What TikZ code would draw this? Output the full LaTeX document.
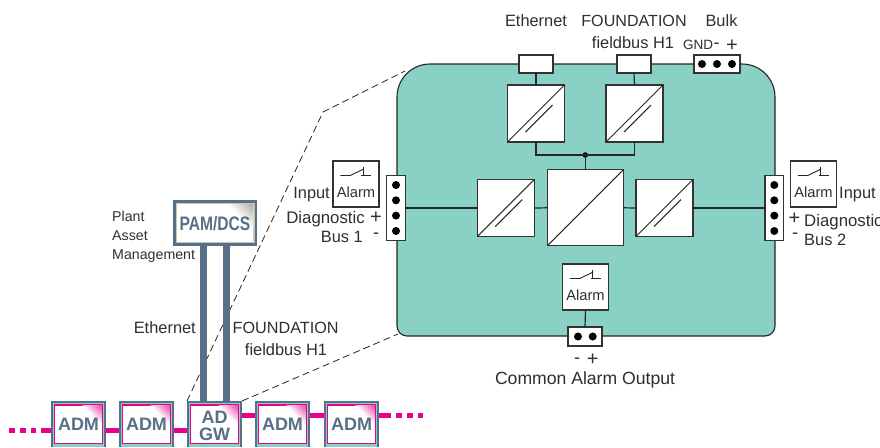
\documentclass[tikz,border=0pt]{standalone}
\usepackage{fontspec}
\setmainfont{Liberation Sans}
\usetikzlibrary{calc}
\definecolor{slate}{HTML}{567087}
\definecolor{tealc}{HTML}{89D0C5}
\definecolor{magc}{HTML}{E9008C}
\definecolor{txtc}{HTML}{2F2F2F}
\definecolor{taupe}{HTML}{C9C6B4}
\definecolor{tandark}{HTML}{A8A493}
\tikzset{
  x=1pt,y=-1pt,
  wire/.style={line width=1.2pt,draw=black!85},
  blockbox/.style={draw=black!80,fill=white,line width=1.1pt,inner sep=0pt,outer sep=0pt},
  dashline/.style={line width=0.8pt,draw=black!85,dash pattern=on 7pt off 4pt},
  maglink/.style={line width=5pt,draw=magc},
  bar/.style={line width=7pt,draw=slate},
  dotpin/.style={circle,fill=black,inner sep=0pt,minimum size=8pt},
  outerbox/.style={fill=slate,inner sep=0pt,outer sep=0pt},
  devtext/.style={inner sep=0pt,text=slate,font=\fontsize{18}{18}\selectfont\bfseries,anchor=base},
}
% text: anchor, name, x, y (vertical middle), size, text
\newcommand{\lbl}[6]{\node[anchor=#1,inner sep=0pt,text=txtc,font=\fontsize{#5}{#5}\selectfont] (#2) at (#3,#4+0.36*#5) {#6};}
% converter: name, cx, cy, size
\newcommand{\conv}[4]{%
  \node[blockbox,minimum width=#4pt,minimum height=#4pt] (#1) at (#2,#3) {};
  \draw[line width=1pt,draw=black!85] (#1.south west) -- (#1.north east);
}
% inner stroke of a small converter
\newcommand{\convin}[1]{\draw[line width=1pt,draw=black!85] ($(#1.south west)+(18pt,9.9pt)$) -- ++(27pt,27pt);}
% alarm: name, left, top
\newcommand{\alarmbox}[3]{%
  \node[blockbox,minimum width=46pt,minimum height=46pt] (#1) at (#2+23,#3+23) {};
  \draw[line width=0.9pt,draw=black!85] (#2+7.3,#3+14.5) -- (#2+17.3,#3+14.5) -- (#2+30.7,#3+8);
  \draw[line width=0.9pt,draw=black!85] (#2+30,#3+5.7) -- (#2+30,#3+14.5);
  \draw[line width=0.9pt,draw=black!85] (#2+28,#3+14.5) -- (#2+38.3,#3+14.5);
  \lbl{base}{#1-t}{#2+23}{#3+31}{14.7}{Alarm}
}
% corner fade: right x, top y, side, colour, strength
\newcommand{\cornerfade}[5]{%
  \foreach \t in {1,0.95,...,0.04}{
    \pgfmathsetmacro{\k}{(1-\t)*#5}
    \fill[#4!\k!white] (#1-#3*\t,#2) -- (#1,#2) -- (#1,#2+#3*\t) -- cycle;
  }
}
% device box: name, cx
\newcommand{\devbox}[2]{%
  \node[outerbox,minimum width=55pt,minimum height=46pt] (#1) at (#2,424) {};
  \fill[tealc] (#2-25.2,403.3) rectangle (#2+25.2,447);
  \fill[magc] (#2-24.2,404.3) rectangle (#2+24.2,443.7);
  \fill[white] (#2-23.1,405.5) rectangle (#2+23.1,442.5);
  \cornerfade{#2+23.1}{405.5}{20}{magc}{75}
}
\begin{document}
\begin{tikzpicture}
\useasboundingbox (0,0) rectangle (880,447);
\clip (0,0) rectangle (880,447);
\fill[white] (0,0) rectangle (880,447);

% named free ends of the dashed lines
\coordinate (dA) at (187,401);
\coordinate (dB) at (323,112);
\coordinate (dC) at (405,71);
\coordinate (dD) at (242,401);
\coordinate (dE) at (398,334);
\draw[dashline] (dA) -- (dB) -- (dC);
\draw[dashline] (dD) -- (dE);

% main housing
\draw[fill=tealc,line width=1.1pt,draw=black!85,rounded corners=33pt]
  (397,200) -- (397,64) -- (775,64) -- (775,200)
  [rounded corners=10pt] -- (775,336) -- (397,336) -- cycle;

% converters
\conv{cE}{536}{113.5}{57}\convin{cE}
\conv{cF}{634.5}{113.5}{57}\convin{cF}
\conv{cL}{505.8}{208}{57}\convin{cL}
\conv{cR}{664.5}{208}{57}\convin{cR}
\conv{cM}{585.3}{207.8}{76}

% top connectors
\node[blockbox,minimum width=34pt,minimum height=18pt] (pE) at (536,64) {};
\node[blockbox,minimum width=34pt,minimum height=18pt] (pF) at (634,64) {};
\node[blockbox,minimum width=46pt,minimum height=18pt] (pB) at (717,64) {};
\node[dotpin] (pB1) at (702,64) {};
\node[dotpin] (pB2) at (717,64) {};
\node[dotpin] (pB3) at (732,64) {};

\draw[wire] (pE.south) -- (cE.north);
\draw[wire] (pF.south) -- (cF.north);
\node[circle,fill=black,inner sep=0pt,minimum size=5.5pt] (junc) at (585.3,155) {};
\draw[wire] (cE.south) |- (junc.center);
\draw[wire] (cF.south) |- (junc.center);
\draw[wire] (junc.center) -- (cM.north);

% side terminals
\node[blockbox,minimum width=18.6pt,minimum height=64.5pt] (tL) at (396,208) {};
\node[dotpin] (tL1) at (396,185) {};
\node[dotpin] (tL2) at (396,200.3) {};
\node[dotpin] (tL3) at (396,215.6) {};
\node[dotpin] (tL4) at (396,231) {};
\node[blockbox,minimum width=18.6pt,minimum height=64.5pt] (tR) at (774.3,208) {};
\node[dotpin] (tR1) at (774.3,185) {};
\node[dotpin] (tR2) at (774.3,200.3) {};
\node[dotpin] (tR3) at (774.3,215.6) {};
\node[dotpin] (tR4) at (774.3,231) {};
\draw[wire] (tL.east) -- (cL.west);
\draw[wire] (cL.east) -- (cM.west);
\draw[wire] (cM.east) -- (cR.west);
\draw[wire] (cR.east) -- (tR.west);

% alarms
\alarmbox{aL}{333}{161}
\alarmbox{aR}{790.5}{161}
\alarmbox{aB}{562.5}{264}
\node[blockbox,minimum width=34pt,minimum height=19pt] (tB) at (585,336.5) {};
\node[dotpin] (tB1) at (578,336.5) {};
\node[dotpin] (tB2) at (592.7,336.5) {};
\draw[wire] (aB.south) -- (tB.north);

% top labels
\lbl{base}{lE}{536}{21}{16.4}{Ethernet}
\lbl{base}{lF1}{634}{21}{16.1}{FOUNDATION}
\lbl{base}{lF2}{633}{43}{16.4}{fieldbus H1}
\lbl{base}{lB}{721.5}{21}{16.4}{Bulk}
\lbl{base}{lG}{698}{45}{13.5}{GND}
\lbl{base}{lBm}{716.5}{42}{18}{-}
\lbl{base}{lBp}{732}{44}{20}{+}

% left labels
\lbl{base east}{lIL}{330}{193}{16.4}{Input}
\lbl{base east}{lDL}{365}{217}{16.8}{Diagnostic}
\lbl{base}{lPL}{376}{216.5}{20}{+}
\lbl{base east}{lBL}{363}{237}{16.4}{Bus 1}
\lbl{base}{lML}{376}{232.5}{18}{-}

% right labels
\lbl{base west}{lIR}{839}{193}{16.4}{Input}
\lbl{base west}{lDR}{804}{220}{16.8}{Diagnostic}
\lbl{base}{lPR}{794.5}{217.5}{20}{+}
\lbl{base west}{lBR}{804}{240}{16.4}{Bus 2}
\lbl{base}{lMR}{795}{232}{18}{-}

% bottom labels
\lbl{base}{lMB}{577}{357}{18}{-}
\lbl{base}{lPB}{592.7}{358}{20}{+}
\lbl{base}{lC}{585}{378}{17.6}{Common Alarm Output}

% left-side labels
\lbl{base west}{lP1}{112}{216.7}{14.2}{Plant}
\lbl{base west}{lP2}{112}{235.7}{14.2}{Asset}
\lbl{base west}{lP3}{112}{254.7}{14.2}{Management}
\lbl{base east}{lEt}{196}{328}{16.4}{Ethernet}
\lbl{base west}{lFo}{232.5}{328}{16.2}{FOUNDATION}
\lbl{base}{lFi}{286}{350}{16.4}{fieldbus H1}

% PAM/DCS
\node[outerbox,minimum width=84pt,minimum height=46pt] (pam) at (215,223) {};
\fill[taupe] (175.5,202.5) rectangle (254.5,243.2);
\fill[white] (177,204) rectangle (253,241.7);
\cornerfade{253}{204}{27}{tandark}{90}
\node[inner sep=0pt,text=slate,font=\fontsize{19.5}{19.5}\selectfont\bfseries,anchor=base] (pamt) at (215,230.2) {\scalebox{0.8}[1]{PAM/DCS}};

% devices
\devbox{adm1}{78.5}\node[devtext] (adm1t) at (78.5,430.5) {ADM};
\devbox{adm2}{146.5}\node[devtext] (adm2t) at (146.5,430.5) {ADM};
\devbox{gw}{214.5}\node[devtext] (gwa) at (214.5,423.5) {AD};
\node[devtext] (gwb) at (214.5,440) {GW};
\devbox{adm3}{282.5}\node[devtext] (adm3t) at (282.5,430.5) {ADM};
\devbox{adm4}{351.5}\node[devtext] (adm4t) at (351.5,430.5) {ADM};

% bars
\draw[bar] (pam.south -| 203.5,0) -- (gw.north -| 203.5,0);
\draw[bar] (pam.south -| 226.3,0) -- (gw.north -| 226.3,0);

% magenta bus
\coordinate (busL) at (9.3,430.7);
\coordinate (busR) at (423,415.7);
\draw[maglink,dash pattern=on 10pt off 5pt on 5pt off 5pt on 6pt off 5pt on 5.7pt] ([yshift=-6.7pt]adm1.west) -- (busL);
\draw[maglink] ([yshift=-6.7pt]adm1.east) -- ([yshift=-6.7pt]adm2.west);
\draw[maglink] ([yshift=-6.7pt]adm2.east) -- ([yshift=-6.7pt]gw.west);
\draw[maglink] ([yshift=8.3pt]gw.east) -- ([yshift=8.3pt]adm3.west);
\draw[maglink] ([yshift=8.3pt]adm3.east) -- ([yshift=8.3pt]adm4.west);
\draw[maglink,dash pattern=on 11.7pt off 5.3pt on 5.7pt off 5.3pt on 5.7pt off 5pt on 5pt] ([yshift=8.3pt]adm4.east) -- (busR);
\end{tikzpicture}
\end{document}
